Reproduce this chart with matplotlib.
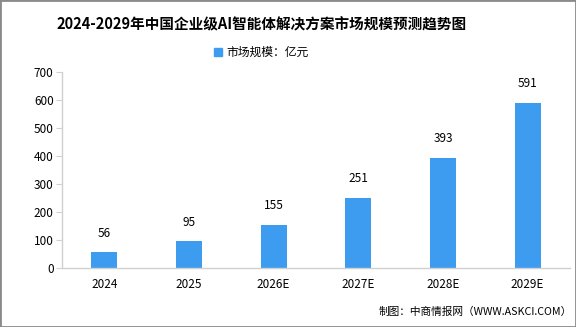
import matplotlib.pyplot as plt
from matplotlib.patches import Rectangle

plt.rcParams['font.family'] = ['Noto Sans CJK SC', 'DejaVu Sans']

years = ["2024", "2025", "2026E", "2027E", "2028E", "2029E"]
market = [56, 95, 155, 251, 393, 591]

BLUE = "#3d9cf0"
GRAY = "#d0d0d0"

fig = plt.figure(figsize=(5.76, 3.27), dpi=100)
ax = fig.add_axes([62 / 576, 59 / 327, 508 / 576, 196 / 327])

x = range(len(years))
bars = ax.bar(x, market, width=0.31, color=BLUE, zorder=2)
for b, v in zip(bars, market):
    ax.annotate(f"{v}", (b.get_x() + b.get_width() / 2, v),
                xytext=(0, 9), textcoords="offset points",
                ha="center", va="bottom", fontsize=8.5)

ax.set_xlim(-0.5, len(years) - 0.5)
ax.set_ylim(0, 700)
ax.set_yticks(range(0, 701, 100))
ax.set_xticks(list(x))
ax.set_xticklabels(years)
ax.tick_params(axis="y", length=4, color=GRAY, labelsize=8.5, pad=2)
ax.tick_params(axis="x", length=0, labelsize=8.5, pad=7)
for s in ("top", "right"):
    ax.spines[s].set_visible(False)
for s in ("left", "bottom"):
    ax.spines[s].set_color(GRAY)
    ax.spines[s].set_linewidth(1.0)

fig.text(262 / 576, 0.925, "2024-2029年中国企业级AI智能体解决方案市场规模预测趋势图",
         ha="center", va="center", fontsize=10.5, fontweight="bold")
fig.patches.append(Rectangle((214 / 576, 1 - 56 / 327), 8 / 576, 8 / 327,
                             transform=fig.transFigure, color=BLUE))
fig.text(226 / 576, 1 - 52 / 327, "市场规模：亿元", ha="left", va="center",
         fontsize=8.5)
fig.text(572 / 576, 1 - 312 / 327, "制图：中商情报网（WWW.ASKCI.COM）",
         ha="right", va="center", fontsize=7.7)

# grey frame round the whole picture
fig.patches.append(Rectangle((0, 0), 1, 1, transform=fig.transFigure,
                             fill=False, edgecolor="#8a8a8a", linewidth=2))

fig.savefig("out.png", dpi=100)
